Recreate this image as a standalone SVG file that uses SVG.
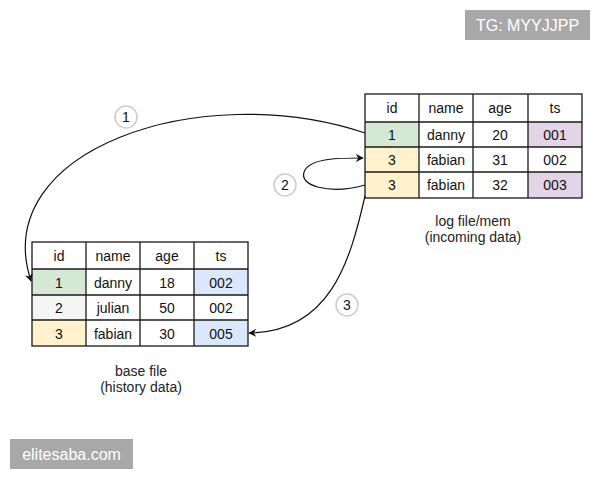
<svg xmlns="http://www.w3.org/2000/svg" width="600" height="480" viewBox="0 0 600 480">
<defs>
<style>
.c{stroke:#1a1a1a;stroke-width:1.3}
.t{font-family:"Liberation Sans",Arial,sans-serif;font-size:14px;fill:#111;text-anchor:middle;dominant-baseline:central}
.lb{font-family:"Liberation Sans",Arial,sans-serif;font-size:14px;fill:#222;text-anchor:middle}
.num{fill:#fff;stroke:#ccc;stroke-width:1.5}
.e{fill:none;stroke:#111;stroke-width:1.2}
.wm{fill:#a8a8a8}
.wt{font-family:"Liberation Sans",Arial,sans-serif;font-size:16px;fill:#fff;text-anchor:middle;dominant-baseline:central}
</style>
<marker id="ah" viewBox="0 0 10 10" refX="9" refY="5" markerWidth="8" markerHeight="8" orient="auto" markerUnits="userSpaceOnUse">
<path d="M0,0 L10,5 L0,10 L3,5 Z" fill="#111"/>
</marker>
</defs>
<rect width="600" height="480" fill="#fff"/>

<g id="log-table">
<rect x="365" y="94" width="217" height="104" fill="#fff"/>
<rect x="365" y="122" width="54" height="25" fill="#d5e8d4"/>
<rect x="365" y="147" width="54" height="25" fill="#fff2cc"/>
<rect x="365" y="172" width="54" height="26" fill="#fff2cc"/>
<rect x="528" y="122" width="54" height="25" fill="#e1d5e7"/>
<rect x="528" y="172" width="54" height="26" fill="#e1d5e7"/>
<g class="c" fill="none">
<rect x="365" y="94" width="217" height="104"/>
<line x1="365" y1="122" x2="582" y2="122"/>
<line x1="365" y1="147" x2="582" y2="147"/>
<line x1="365" y1="172" x2="582" y2="172"/>
<line x1="419" y1="94" x2="419" y2="198"/>
<line x1="473" y1="94" x2="473" y2="198"/>
<line x1="528" y1="94" x2="528" y2="198"/>
</g>
<text class="t" x="392" y="108">id</text><text class="t" x="446" y="108">name</text><text class="t" x="500" y="108">age</text><text class="t" x="555" y="108">ts</text>
<text class="t" x="392" y="134.5">1</text><text class="t" x="446" y="134.5">danny</text><text class="t" x="500" y="134.5">20</text><text class="t" x="555" y="134.5">001</text>
<text class="t" x="392" y="159.5">3</text><text class="t" x="446" y="159.5">fabian</text><text class="t" x="500" y="159.5">31</text><text class="t" x="555" y="159.5">002</text>
<text class="t" x="392" y="185">3</text><text class="t" x="446" y="185">fabian</text><text class="t" x="500" y="185">32</text><text class="t" x="555" y="185">003</text>
<text class="lb" x="473" y="226">log file/mem</text>
<text class="lb" x="473" y="242">(incoming data)</text>
</g>

<g id="base-table">
<rect x="32" y="242" width="216" height="104" fill="#fff"/>
<rect x="32" y="269" width="54" height="26" fill="#d5e8d4"/>
<rect x="32" y="295" width="54" height="25" fill="#f5f5f5"/>
<rect x="32" y="320" width="54" height="26" fill="#fff2cc"/>
<rect x="194" y="269" width="54" height="26" fill="#dae8fc"/>
<rect x="194" y="320" width="54" height="26" fill="#dae8fc"/>
<g class="c" fill="none">
<rect x="32" y="242" width="216" height="104"/>
<line x1="32" y1="269" x2="248" y2="269"/>
<line x1="32" y1="295" x2="248" y2="295"/>
<line x1="32" y1="320" x2="248" y2="320"/>
<line x1="86" y1="242" x2="86" y2="346"/>
<line x1="140" y1="242" x2="140" y2="346"/>
<line x1="194" y1="242" x2="194" y2="346"/>
</g>
<text class="t" x="59" y="256">id</text><text class="t" x="113" y="256">name</text><text class="t" x="167" y="256">age</text><text class="t" x="221" y="256">ts</text>
<text class="t" x="59" y="282.5">1</text><text class="t" x="113" y="282.5">danny</text><text class="t" x="167" y="282.5">18</text><text class="t" x="221" y="282.5">002</text>
<text class="t" x="59" y="308" fill="#333">2</text><text class="t" x="113" y="308">julian</text><text class="t" x="167" y="308">50</text><text class="t" x="221" y="308">002</text>
<text class="t" x="59" y="333.5">3</text><text class="t" x="113" y="333.5">fabian</text><text class="t" x="167" y="333.5">30</text><text class="t" x="221" y="333.5">005</text>
<text class="lb" x="141" y="376">base file</text>
<text class="lb" x="141" y="392">(history data)</text>
</g>

<g id="connectors">
<path class="e" d="M365,133 C200,78 -12,150 31,281" marker-end="url(#ah)"/>
<path class="e" d="M365,185 C330,195 296,186 305,170 C312,158 340,158 363,158" marker-end="url(#ah)"/>
<path class="e" d="M365,196 C350,262 330,332 249,333" marker-end="url(#ah)"/>
</g>

<g id="label-1"><circle class="num" cx="126" cy="117" r="11"/><text class="t" x="126" y="117">1</text></g>
<g id="label-2"><circle class="num" cx="285" cy="185" r="11"/><text class="t" x="285" y="185">2</text></g>
<g id="label-3"><circle class="num" cx="347" cy="305" r="11"/><text class="t" x="347" y="305">3</text></g>

<g id="wm-tg"><rect class="wm" x="465" y="10" width="125" height="30"/><text class="wt" x="527.5" y="25">TG: MYYJJPP</text></g>
<g id="wm-site"><rect class="wm" x="10" y="439" width="123" height="30"/><text class="wt" x="71.5" y="454">elitesaba.com</text></g>
</svg>
